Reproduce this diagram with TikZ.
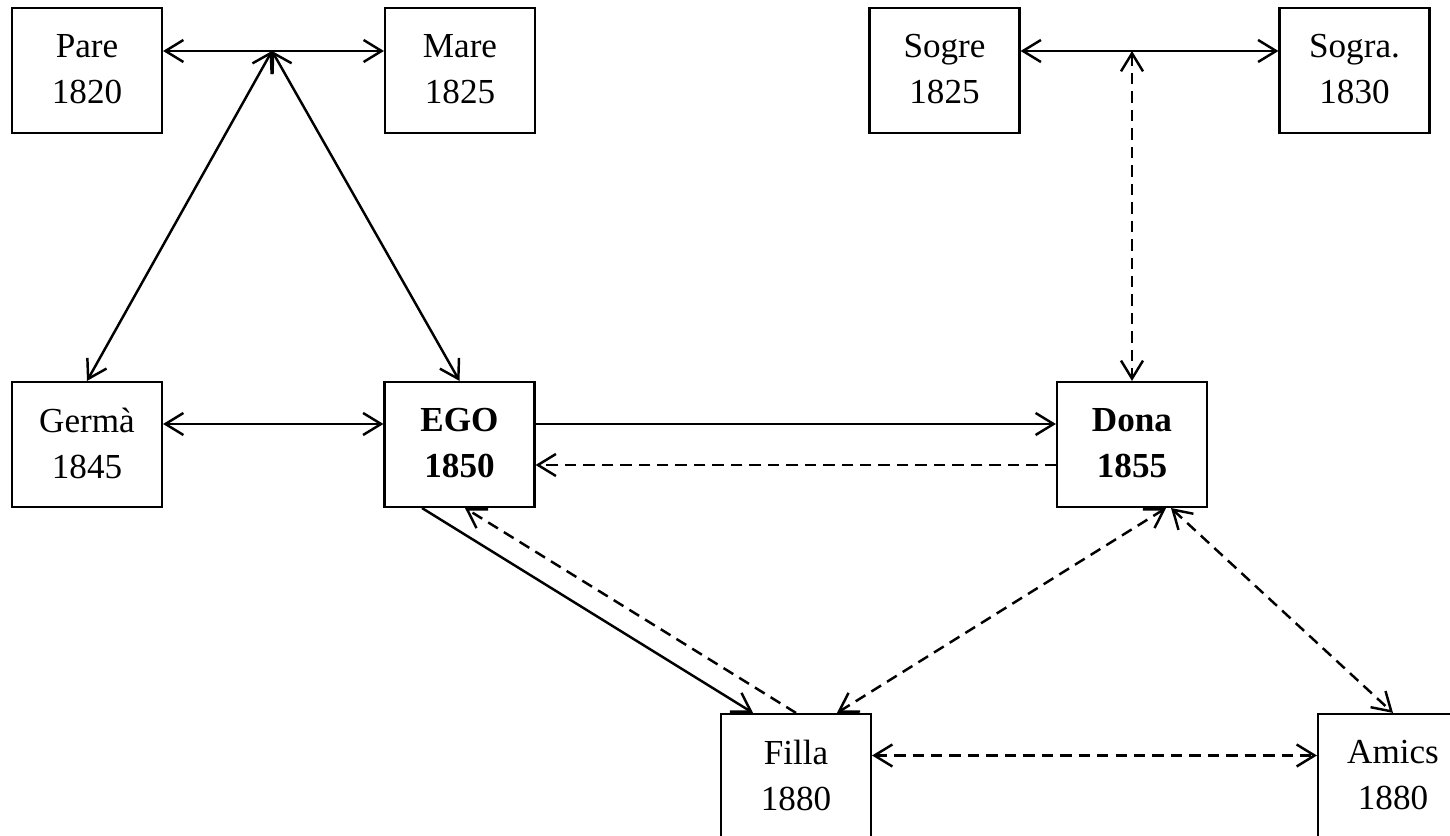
\documentclass[tikz,border=0pt]{standalone}
\usepackage{fontspec}
\setmainfont{Liberation Serif}
\usepackage{tikz}
\usetikzlibrary{arrows.meta,positioning}

\begin{document}
\begin{tikzpicture}[scale=1]
	% Fix the page.
	\useasboundingbox (0,0) rectangle (29,16.72);

	\tikzstyle{person box}=[draw,line width=1.2pt,minimum width=3cm,minimum height=2.5cm,inner sep=0pt,align=center,text depth=0.06cm,font=\fontsize{20}{26}\selectfont]
	\tikzstyle{kin link}=[line width=1.4pt,>={Straight Barb[length=3.6mm,width=4.4mm]}]
	\tikzstyle{kin dash}=[kin link,dash pattern=on 6.5pt off 4pt]

	% Draw the people.
	\node (pare) at (1.74,15.31) [person box] {Pare\\1820};
	\node (mare) at (9.20,15.31) [person box] {Mare\\1825};
	\node (sogre) at (18.89,15.31) [person box] {Sogre\\1825};
	\node (sogra) at (27.09,15.31) [person box] {Sogra.\\1830};

	\node (germa) at (1.74,7.83) [person box] {Germà\\1845};
	\node (ego) at (9.19,7.83) [person box] {\textbf{EGO}\\\textbf{1850}};
	\node (dona) at (22.64,7.83) [person box] {\textbf{Dona}\\\textbf{1855}};

	\node (filla) at (15.92,1.19) [person box] {Filla\\1880};
	\node (amics) at (27.86,1.19) [person box] {Amics\\1880};

	% Draw the couples.
	\coordinate (pares) at (5.44,15.70);
	\coordinate (sogres) at (22.64,15.70);
	\draw [kin link, <->] ([yshift=0.39cm]pare.east) -- ([yshift=0.39cm]mare.west);
	\draw [kin link, <->] ([yshift=0.39cm]sogre.east) -- ([yshift=0.39cm]sogra.west);

	\draw [kin link, <->] (pares) -- (germa.north);
	\draw [kin link, <->] (pares) -- (ego.north);
	\draw [kin dash, <->] (sogres) -- (dona.north);

	% Draw the links of ego.
	\draw [kin link, <->] ([yshift=0.41cm]germa.east) -- ([yshift=0.41cm]ego.west);
	\draw [kin link, ->] ([yshift=0.41cm]ego.east) -- ([yshift=0.41cm]dona.west);
	\draw [kin dash, ->] ([yshift=-0.41cm]dona.west) -- ([yshift=-0.41cm]ego.east);

	\draw [kin link, ->] ([xshift=-0.75cm]ego.south) -- ([xshift=-0.86cm]filla.north);
	\draw [kin dash, ->] (filla.north) -- ([xshift=0.11cm]ego.south);
	\draw [kin dash, <->] ([xshift=0.82cm]filla.north) -- ([xshift=0.68cm]dona.south);
	\draw [kin dash, <->] ([xshift=0.78cm]dona.south) -- (amics.north);
	\draw [kin dash, <->] ([yshift=0.42cm]filla.east) -- ([yshift=0.42cm]amics.west);

\end{tikzpicture}
\end{document}
